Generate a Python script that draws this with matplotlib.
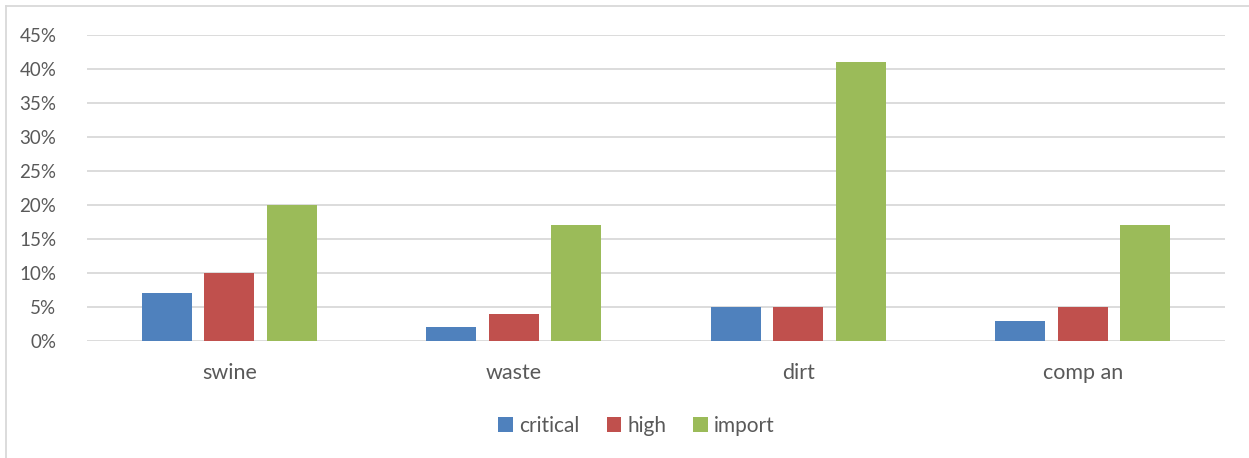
import matplotlib.pyplot as plt
import numpy as np
from matplotlib.lines import Line2D

categories = ['swine', 'waste', 'dirt', 'comp an']
critical = [7, 2, 5, 3]
high = [10, 4, 5, 5]
importv = [20, 17, 41, 17]
series_names = ['critical', 'high', 'import']
colors = ['#4f81bd', '#c0504d', '#9bbb59']
yticks = [0, 5, 10, 15, 20, 25, 30, 35, 40, 45]

plt.rcParams['font.family'] = ['Lato', 'DejaVu Sans']

fig = plt.figure(figsize=(12.49, 4.58), dpi=100)
ax = fig.add_axes([87 / 1249, 1 - 341 / 458, (1225 - 87) / 1249, (341 - 35) / 458])

x = np.arange(len(categories))
w = 0.176
step = 0.22
for i, (vals, name, c) in enumerate(zip([critical, high, importv], series_names, colors)):
    ax.bar(x + (i - 1) * step, vals, w, color=c, label=name, zorder=3)

ax.set_xlim(-0.5, len(categories) - 0.5)
ax.set_ylim(0, 45)
ax.set_yticks(yticks)
ax.set_yticklabels([f'{t}%' for t in yticks])
ax.set_xticks(x)
ax.set_xticklabels(categories)
ax.grid(axis='y', color='#d9d9d9', linewidth=1.3, zorder=0)
for s in ax.spines.values():
    s.set_visible(False)
ax.tick_params(axis='both', length=0, colors='#595959')
ax.tick_params(axis='y', pad=22, labelsize=13.5)
ax.tick_params(axis='x', pad=16, labelsize=15.5)

ax.legend(loc='upper center', bbox_to_anchor=(0.483, -0.183), ncol=3, frameon=False,
          fontsize=15, labelcolor='#595959', handlelength=0.7, handleheight=0.7,
          handletextpad=0.3, columnspacing=1.3)

# outer chart border (top and left visible)
fig.add_artist(Line2D([6 / 1249, 1], [1 - 6 / 458, 1 - 6 / 458], color='#d9d9d9', linewidth=1.3))
fig.add_artist(Line2D([6 / 1249, 6 / 1249], [0, 1 - 6 / 458], color='#d9d9d9', linewidth=1.3))

fig.savefig('out.png', dpi=100)
